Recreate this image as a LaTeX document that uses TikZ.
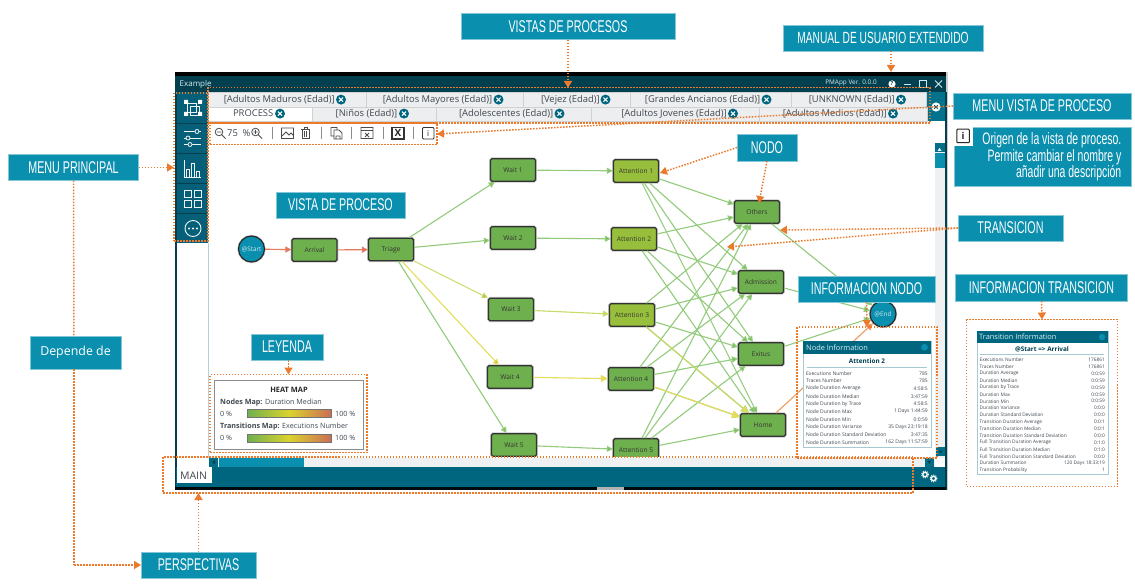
\documentclass[tikz,border=0pt]{standalone}
\usepackage{fontspec}
\setmainfont{Open Sans}
\newfontfamily\cond[FakeStretch=0.63]{Liberation Sans}
\usetikzlibrary{arrows.meta,shapes.geometric}
\definecolor{lab}{HTML}{0A8FAE}
\definecolor{teal}{HTML}{00667F}
\definecolor{deep}{HTML}{023F4F}
\definecolor{side}{HTML}{055F78}
\definecolor{org}{HTML}{EC7A2C}
\definecolor{nodeg}{HTML}{6FB04E}
\definecolor{nodey}{HTML}{98BF3C}
\definecolor{edg}{HTML}{93CB7C}
\definecolor{edgh}{HTML}{78BC58}
\definecolor{edy}{HTML}{E4DE5C}
\definecolor{edyg}{HTML}{C9DA66}
\definecolor{edr}{HTML}{E2795C}
\definecolor{tabg}{HTML}{EDEEEF}
\definecolor{trk}{HTML}{EEF0F2}
\definecolor{ink}{HTML}{404850}
\newcommand{\fs}[1]{\fontsize{#1}{#1}\selectfont}
\newcommand{\closeic}[2]{%
  \fill[teal] (#1,#2) circle (5);
  \draw[white,line width=1.1] (#1-2,#2-2) -- (#1+2,#2+2) (#1-2,#2+2) -- (#1+2,#2-2);}
\tikzset{
  x=1pt,y=-1pt,
  labbox/.style={fill=lab,draw=lab!50!white,line width=.5,text=white,inner sep=0,outer sep=0,font=\cond\fs{17}},
  dotbox/.style={draw=org,line width=1.5,dash pattern=on 1.5pt off 1.5pt,fill=none,inner sep=0,outer sep=0},
  dotline/.style={draw=org,line width=1.5,dash pattern=on 1.5pt off 1.5pt},
  dotarrow/.style={dotline,-{Triangle[length=7,width=8,fill=org,sep=0pt]}},
  proc/.style={preaction={draw=black!22,line width=2.6,rounded corners=1.5},draw=black!80,line width=1.2,rounded corners=1.5,fill=nodeg,minimum width=45,minimum height=22.5,inner sep=0,font=\fs{6.6},text=black!80,outer sep=.6},
  procy/.style={proc,fill=nodey},
  ev/.style={preaction={draw=black!22,line width=2.4},draw=black!85,line width=1.1,circle,fill=lab,minimum size=26,inner sep=0,font=\fs{6.4},text=white!80!lab},
  tr/.style={edg,line width=1.1,-{Triangle[length=6,width=6,fill=edgh]}},
  tabcell/.style={draw=black!18,line width=.6,fill=tabg,inner sep=0,outer sep=0,font=\fs{9.4},text=ink},
  ptxt/.style={inner sep=0,font=\fs{5},text=ink},
  ptitle/.style={inner sep=0,font=\bfseries\fs{6.4},text=deep},
  hdr/.style={inner sep=0,font=\fs{7.4},text=white!85!lab},
  icon/.style={draw=white!92!teal,line width=.8},
  tool/.style={draw=black!70,line width=.8},
  tooltxt/.style={inner sep=0,font=\fs{9.4},text=ink},
}
\begin{document}
\begin{tikzpicture}
\useasboundingbox (0,0) rectangle (1135,585);
% ---- application window
\fill[white] (175,72) rectangle (947,490);
\fill[black!20] (946,72) rectangle (948,490);
\fill[black] (175,72) rectangle (946,76);
\fill[deep] (175,76) rectangle (946,92);
\fill[deep] (175,76) rectangle (176.5,490);
\fill[deep] (945,92) rectangle (946.5,490);
\node[inner sep=0,anchor=west,font=\fs{8},text=white!85!lab] (wtitle) at (179.5,84.5) {Example};
\node[inner sep=0,font=\fs{6.4},text=white!85!lab] (wver) at (851,83) {PMApp Ver. 0.0.0};
\fill[white] (892,84) circle (3.6);
\node[inner sep=0,font=\bfseries\fs{5.5},text=deep] (whelp) at (892,84) {?};
\draw[white!80!lab,line width=.9] (904,84.5) -- (911,84.5);
\draw[white!80!lab,line width=.7] (919.5,80.5) rectangle (926.5,87.5);
\draw[white!80!lab,line width=.8] (935,80.5) -- (942,87.5) (935,87.5) -- (942,80.5);
% ---- tabs
\fill[teal!70!lab] (927,92) rectangle (945,121);
\node[tabcell,minimum width=158,minimum height=14.5] (t1) at (287,100) {};
\node[tabcell,minimum width=157,minimum height=14.5] (t2) at (444.5,100) {};
\node[tabcell,minimum width=107,minimum height=14.5] (t3) at (576.5,100) {};
\node[tabcell,minimum width=161,minimum height=14.5] (t4) at (710.5,100) {};
\node[tabcell,minimum width=135,minimum height=14.5] (t5) at (858.5,100) {};
\node[tabcell,fill=white,minimum width=104,minimum height=14.5] (b1) at (260,114.5) {};
\node[tabcell,minimum width=124,minimum height=14.5] (b2) at (374,114.5) {};
\node[tabcell,minimum width=155,minimum height=14.5] (b3) at (513.5,114.5) {};
\node[tabcell,minimum width=168,minimum height=14.5] (b4) at (675,114.5) {};
\node[tabcell,minimum width=168,minimum height=14.5] (b5) at (843,114.5) {};
\node[tooltxt,anchor=east] (tt1) at (335,99.6) {[Adultos Maduros (Edad)]};
\node[tooltxt,anchor=east] (tt2) at (492.5,99.6) {[Adultos Mayores (Edad)]};
\node[tooltxt,anchor=east] (tt3) at (600,99.6) {[Vejez (Edad)]};
\node[tooltxt,anchor=east] (tt4) at (760.5,99.6) {[Grandes Ancianos (Edad)]};
\node[tooltxt,anchor=east] (tt5) at (895,99.6) {[UNKNOWN (Edad)]};
\node[tooltxt,anchor=east] (tb1) at (273.5,113.6) {PROCESS};
\node[tooltxt,anchor=east] (tb2) at (397.5,113.6) {[Niños (Edad)]};
\node[tooltxt,anchor=east] (tb3) at (553.5,113.6) {[Adolescentes (Edad)]};
\node[tooltxt,anchor=east] (tb4) at (727,113.6) {[Adultos Jovenes (Edad)]};
\node[tooltxt,anchor=east] (tb5) at (887,113.6) {[Adultos Medios (Edad)]};
\closeic{341}{99.6}\closeic{498.5}{99.6}\closeic{605.5}{99.6}\closeic{766.5}{99.6}\closeic{901}{99.6}
\closeic{280}{113.6}\closeic{404}{113.6}\closeic{559.5}{113.6}\closeic{733}{113.6}\closeic{893}{113.6}
\fill[white] (936,107) circle (4.6);
\draw[teal,line width=1] (934.2,105.2) -- (937.8,108.8) (934.2,108.8) -- (937.8,105.2);
% ---- toolbar icons
\draw[tool] (219,132) circle (3.8) (222,135) -- (225.5,138.5) (217,132) -- (221,132);
\node[tooltxt] (zv) at (232.5,133) {75};
\node[tooltxt] (zp) at (246.5,133) {\%};
\draw[tool] (255.5,132) circle (3.8) (258.5,135) -- (262,138.5) (253.5,132) -- (257.5,132) (255.5,130) -- (255.5,134);
\draw[black!45,line width=.8] (272,127) -- (272,139) (321,127) -- (321,139) (351,127) -- (351,139) (383,127) -- (383,139) (413,127) -- (413,139);
\draw[tool] (281.5,128) rectangle (293.5,138.5) (282,136) -- (286,132) -- (289,135) -- (291,133) -- (293.5,135.5);
\draw[tool] (301,129) -- (310,129) (302,129) rectangle (309,138.5) (304.2,131) -- (304.2,137) (306.8,131) -- (306.8,137) (304,129) -- (304,127.5) -- (307,127.5) -- (307,129);
\draw[tool] (331,127.5) -- (337,127.5) -- (337,130) (331,127.5) -- (331,136) -- (334,136) (334,130) -- (339,130) -- (342,133) -- (342,139) -- (334,139) -- cycle (336,136) rectangle (340,139);
\draw[tool] (361,127.5) rectangle (373,138.5) (361,130.5) -- (373,130.5) (365,133) -- (369,137) (365,137) -- (369,133);
\draw[black!80,line width=1.1,fill=white] (392,127.5) rectangle (404,139);
\node[inner sep=0,font=\bfseries\fs{10},text=black!85] (xic) at (398,133.3) {X};
\draw[black!80,line width=.8,rounded corners=1] (422.5,127.5) rectangle (434,139);
\node[inner sep=0,font=\fs{8},text=black!85] (iic) at (428.2,133.3) {i};
% ---- canvas edge
\draw[teal!30,line width=1] (208.5,243) -- (208.5,458);
% ---- process graph
\node[ev] (start) at (251.5,249) {@Start};
\node[proc] (arr) at (314.5,250) {Arrival};
\node[proc] (tri) at (391,249.5) {Triage};
\node[proc] (w1) at (513,170) {Wait 1};
\node[proc] (w2) at (513,238) {Wait 2};
\node[proc] (w3) at (511,309.5) {Wait 3};
\node[proc] (w4) at (510,377) {Wait 4};
\node[proc] (w5) at (514,445) {Wait 5};
\node[procy] (a1) at (636,171) {Attention 1};
\node[procy] (a2) at (634,239) {Attention 2};
\node[procy] (a3) at (632,315) {Attention 3};
\node[proc] (a4) at (631,379) {Attention 4};
\node[proc] (a5) at (636,450) {Attention 5};
\node[proc] (oth) at (757,212) {Others};
\node[proc] (adm) at (761,282) {Admission};
\node[proc] (exi) at (761,354) {Exitus};
\node[proc] (hom) at (763,425) {Home};
\node[ev] (end) at (883,314) {@End};
\foreach \s in {a1,a2,a3,a4,a5}
  \foreach \t in {oth,adm,exi,hom}
    \draw[tr] (\s) -- (\t);
\draw[tr,edy,-{Triangle[length=8,width=8,fill=edy]}] (a4) -- (hom);
\draw[tr,edyg,-{Triangle[length=8,width=8,fill=edy]}] (a3) -- (hom);
\draw[tr] (tri) -- (w1);
\draw[tr] (tri) -- (w2);
\draw[tr,edyg,-{Triangle[length=6,width=6,fill=edyg!80!black]}] (tri) -- (w3);
\draw[tr,edy,-{Triangle[length=6,width=6,fill=edy!85!black]}] (tri) -- (w4);
\draw[tr] (tri) -- (w5);
\draw[tr] (w1) -- (a1);
\draw[tr] (w2) -- (a2);
\draw[tr,edyg,-{Triangle[length=6,width=6,fill=edyg]}] (w3) -- (a3);
\draw[tr,edy,-{Triangle[length=7,width=7,fill=edy]}] (w4) -- (a4);
\draw[tr] (w5) -- (a5);
\draw[tr,edr,-{Triangle[length=6,width=6,fill=edr]}] (start) -- (arr);
\draw[tr,edr,-{Triangle[length=6,width=6,fill=edr]}] (arr) -- (tri);
\draw[tr] (oth) -- (end);
\draw[tr] (adm) -- (end);
\draw[tr] (exi) -- (end);
\draw[tr,org!75,-{Triangle[length=7,width=7,fill=org]}] (hom) -- (end);
% ---- scrollbars and bottom bar
\fill[trk] (935,143) rectangle (945,458);
\fill[teal!80!lab] (935,143) rectangle (945,152);
\fill[lab] (935,153.5) rectangle (945,168);
\fill[teal!80!lab] (936,446.5) rectangle (945,456);
\fill[white] (209,457) rectangle (935,467);
\fill[trk] (209,457.5) rectangle (935,467);
\fill[teal!80!lab] (209,457.5) rectangle (218,467);
\fill[lab] (219,457.5) rectangle (304,467);
\fill[teal!80!lab] (924.5,458) rectangle (934,467);
\fill[white] (937.5,151) -- (941.5,151) -- (939.5,148) -- cycle;
\fill[deep] (212,462.2) -- (215,460) -- (215,464.4) -- cycle;
\fill[deep] (938.5,450.5) -- (943,450.5) -- (940.7,453) -- cycle;
\fill[deep] (927.5,461) -- (931,461) -- (929.2,464) -- cycle;
\fill[teal] (176,467) rectangle (945,487);
\fill[black!85!deep] (175,486.5) rectangle (946,490);
\fill[black!30] (597,487) rectangle (624,490);
\fill[white] (176.5,467) rectangle (212,483);
\node[inner sep=0,font=\fs{10.5},text=ink] (mainp) at (193.5,475.5) {MAIN};
\foreach \gx/\gy in {925/474.5,933.5/478.5}{
  \draw[white,line width=1.3] (\gx,\gy) circle (2.2);
  \draw[white,line width=1,dash pattern=on 1.1pt off 1.1pt] (\gx,\gy) circle (3.4);
}
% ---- sidebar
\fill[side] (176.5,92) rectangle (208,243);
\draw[deep,line width=.7] (176.5,123) -- (208,123) (176.5,153) -- (208,153) (176.5,183) -- (208,183) (176.5,213) -- (208,213);
\draw[icon] (187,103) rectangle (196,112) (190,106) rectangle (199,115);
\fill[white] (184,100) rectangle (188,104) (198,100) rectangle (202,104) (184,112) rectangle (188,116) (198,112) rectangle (202,116);
\draw[icon] (184,131.5) -- (201,131.5) (184,138) -- (201,138) (184,144.5) -- (201,144.5);
\draw[icon,fill=side] (197,131.5) circle (2) (188,138) circle (2) (190,144.5) circle (2);
\draw[icon] (184,160) -- (184,177) -- (201,177) (186.5,177) -- (186.5,169) -- (189.5,169) -- (189.5,177) (191,177) -- (191,163) -- (194,163) -- (194,177) (196,177) -- (196,171) -- (199,171) -- (199,177);
\draw[icon,line width=.9] (184.5,190.5) rectangle (191,197) (194.5,190.5) rectangle (201,197) (184.5,200.5) rectangle (191,207) (194.5,200.5) rectangle (201,207);
\draw[icon,line width=.9] (193,228.5) circle (8);
\fill[white] (189,228.5) circle (1.1) (193,228.5) circle (1.1) (197,228.5) circle (1.1);
% ---- heat map legend
\node[draw=black!45,line width=1,fill=white,minimum width=149,minimum height=69,inner sep=0] (legend) at (288.5,414.5) {};
\node[inner sep=0,font=\bfseries\fs{7.4},text=black!85] (legt) at (289,389.5) {HEAT MAP};
\node[inner sep=0,anchor=west,font=\fs{7.2},text=ink] (legn) at (220,402.5) {\textbf{Nodes Map:} Duration Median};
\node[inner sep=0,anchor=west,font=\fs{7.2},text=ink] (legtr) at (220,427) {\textbf{Transitions Map:} Executions Number};
\node[inner sep=0,anchor=west,font=\fs{7.2},text=ink] (l0a) at (220,413.5) {0 \%};
\node[inner sep=0,anchor=west,font=\fs{7.2},text=ink] (l0b) at (220,438) {0 \%};
\node[inner sep=0,anchor=west,font=\fs{7.2},text=ink] (l1a) at (335,413.5) {100 \%};
\node[inner sep=0,anchor=west,font=\fs{7.2},text=ink] (l1b) at (335,438) {100 \%};
\definecolor{hmid}{HTML}{DBD22E}
\foreach \yy in {409,434}{
  \shade[left color=nodeg,right color=hmid] (247.5,\yy) rectangle (289,\yy+8.5);
  \shade[left color=hmid,right color=edr!90!black] (289,\yy) rectangle (331,\yy+8.5);
  \draw[black!55,line width=.5] (247.5,\yy) rectangle (331,\yy+8.5);
}
% ---- node information panel
\node[draw=teal!35,line width=.8,fill=white,minimum width=128,minimum height=106,inner sep=0] (npanel) at (867,394) {};
\fill[teal] (803,341) rectangle (931,353.5);
\node[hdr,anchor=west] (nh) at (806,347.3) {Node Information};
\fill[lab] (924.5,347.3) circle (3.4);
\node[ptitle] (nt) at (867,361) {Attention 2};
\draw[teal!35,line width=.8] (807,367) -- (927,367);
\foreach \l/\v [count=\i from 0] in {Executions Number/785,Traces Number/785,Node Duration Average/4:58:5,Node Duration Median/3:47:59,Node Duration by Trace/4:58:5,Node Duration Max/1 Days 1:44:59,Node Duration Min/0:0:59,Node Duration Variance/35 Days 23:19:18,Node Duration Standard Deviation/3:47:35,Node Duration Summation/162 Days 11:57:59}{
  \node[ptxt,anchor=west] (nl\i) at (806,373.3+7.67*\i) {\l};
  \node[ptxt,anchor=east] (nv\i) at (928,373.3+7.67*\i) {\v};
}
% ---- transition information panel
\node[draw=teal!35,line width=.8,fill=white,minimum width=131,minimum height=143,inner sep=0] (tpanel) at (1042.5,402.5) {};
\fill[teal] (977,331) rectangle (1108,343);
\node[hdr,anchor=west] (th) at (979,337) {Transition Information};
\fill[lab] (1102,337) circle (3.2);
\node[ptitle] (tt) at (1042,349) {@Start => Arrival};
\draw[teal!35,line width=.8] (980,354) -- (1104,354);
\foreach \l/\v [count=\i from 0] in {Executions Number/176861,Traces Number/176861,Duration Average/0:0:59,Duration Median/0:0:59,Duration by Trace/0:0:59,Duration Max/0:0:59,Duration Min/0:0:59,Duration Variance/0:0:0,Duration Standard Deviation/0:0:0,Transition Duration Average/0:0:1,Transition Duration Median/0:0:1,Transition Duration Standard Deviation/0:0:0,Full Transition Duration Average/0:1:0,Full Transition Duration Median/0:1:0,Full Transition Duration Standard Deviation/0:0:0,Duration Summation/120 Days 18:33:19,Transition Probability/1}{
  \node[ptxt,anchor=west,font=\fs{4.8}] (tl\i) at (979.5,360+6.88*\i) {\l};
  \node[ptxt,anchor=east,font=\fs{4.8}] (tv\i) at (1105,360+6.88*\i) {\v};
}
% ---- annotation frames
\node[dotbox,minimum width=34,minimum height=148] (fside) at (191,167) {};
\node[dotbox,minimum width=722,minimum height=35.5] (ftabs) at (569,105.5) {};
\node[dotbox,minimum width=227,minimum height=21.5] (ftool) at (323.5,134) {};
\node[dotbox,minimum width=157,minimum height=78] (fleg) at (288.5,413.5) {};
\node[dotbox,minimum width=750,minimum height=36] (fbot) at (538,475) {};
\node[dotbox,minimum width=140,minimum height=131] (fnode) at (867,392.5) {};
\node[dotbox,minimum width=151,minimum height=167] (ftrans) at (1042,403) {};
% ---- label boxes
\node[labbox,minimum width=214,minimum height=26.5] (lvistas) at (568,26.3) {VISTAS DE PROCESOS};
\node[labbox,minimum width=200,minimum height=26,font=\cond\fs{16.2}] (lmanual) at (883,38) {MANUAL DE USUARIO EXTENDIDO};
\node[labbox,minimum width=178,minimum height=26] (lmenuv) at (1042,106) {MENU VISTA DE PROCESO};
\node[labbox,minimum width=177,minimum height=59] (lorigen) at (1042.5,157) {};
\fill[white] (953,126) rectangle (973,146);
\node[inner sep=0,anchor=east,align=right,text=white,font=\cond\fs{16.6}] (torigen) at (1121.5,157) {\fontsize{16.6}{17.7}\selectfont Origen de la vista de proceso.\\Permite cambiar el nombre y\\añadir una descripción};
\node[labbox,minimum width=60,minimum height=27] (lnodo) at (767,147.5) {NODO};
\node[labbox,minimum width=129,minimum height=26] (lvista) at (340.5,205) {VISTA DE PROCESO};
\node[labbox,minimum width=105,minimum height=26] (ltrans) at (1010.5,228) {TRANSICION};
\node[labbox,minimum width=137,minimum height=26] (linfon) at (866.5,289) {INFORMACION NODO};
\node[labbox,minimum width=172,minimum height=27] (linfot) at (1041.5,287.5) {INFORMACION TRANSICION};
\node[labbox,minimum width=72,minimum height=26] (lley) at (287,347) {LEYENDA};
\node[labbox,minimum width=130,minimum height=26.5] (lmenup) at (73.5,167.5) {MENU PRINCIPAL};
\node[labbox,minimum width=91,minimum height=33,font=\fs{12.4}] (ldep) at (75.5,352.5) {Depende de};
\node[labbox,minimum width=115,minimum height=26] (lpersp) at (198.5,565) {PERSPECTIVAS};
% ---- info icon
\node[draw=black!85,line width=1,fill=white,rounded corners=.8,minimum width=12.5,minimum height=13.5,inner sep=0,font=\bfseries\fs{9.5},text=black!85] (infoic) at (963,136) {i};
% ---- annotation connectors
\coordinate (cTabs) at (568,88);
\coordinate (cMan) at (891,72);
\coordinate (cMid) at (933,107);
\coordinate (cNodoA) at (660,173);
\coordinate (cNodoB) at (759,203);
\coordinate (cTrA) at (780,230);
\coordinate (cTrB) at (727,247);
\coordinate (cDep) at (74,565);
\draw[dotarrow] (lvistas.south) -- (cTabs);
\draw[dotarrow] ([xshift=8]lmanual.south) -- (cMan);
\draw[dotline] (lmenuv.west) -- (cMid);
\draw[dotarrow] (cMid) -- (ftool.east);
\draw[dotarrow] (lnodo.west) -- (cNodoA);
\draw[dotarrow] (lnodo.south) -- (cNodoB);
\draw[dotarrow] (ltrans.west) -- (cTrA);
\draw[dotarrow] (ltrans.west) -- (cTrB);
\draw[dotarrow] (lmenup.east) -- (fside.west |- lmenup.east);
\draw[dotline] (lmenup.south) -- ([xshift=-1.5]ldep.north);
\draw[dotline] ([xshift=-1.5]ldep.south) -- (cDep);
\draw[dotarrow] (cDep) -- (lpersp.west);
\draw[dotarrow] (lpersp.north) -- (lpersp.north |- fbot.south);
\draw[dotarrow] (lley.south -| fleg.north) -- (fleg.north);
\draw[dotarrow] (linfon.south) -- (fnode.north);
\draw[dotarrow] (linfot.south) -- (ftrans.north);
\end{tikzpicture}
\end{document}
